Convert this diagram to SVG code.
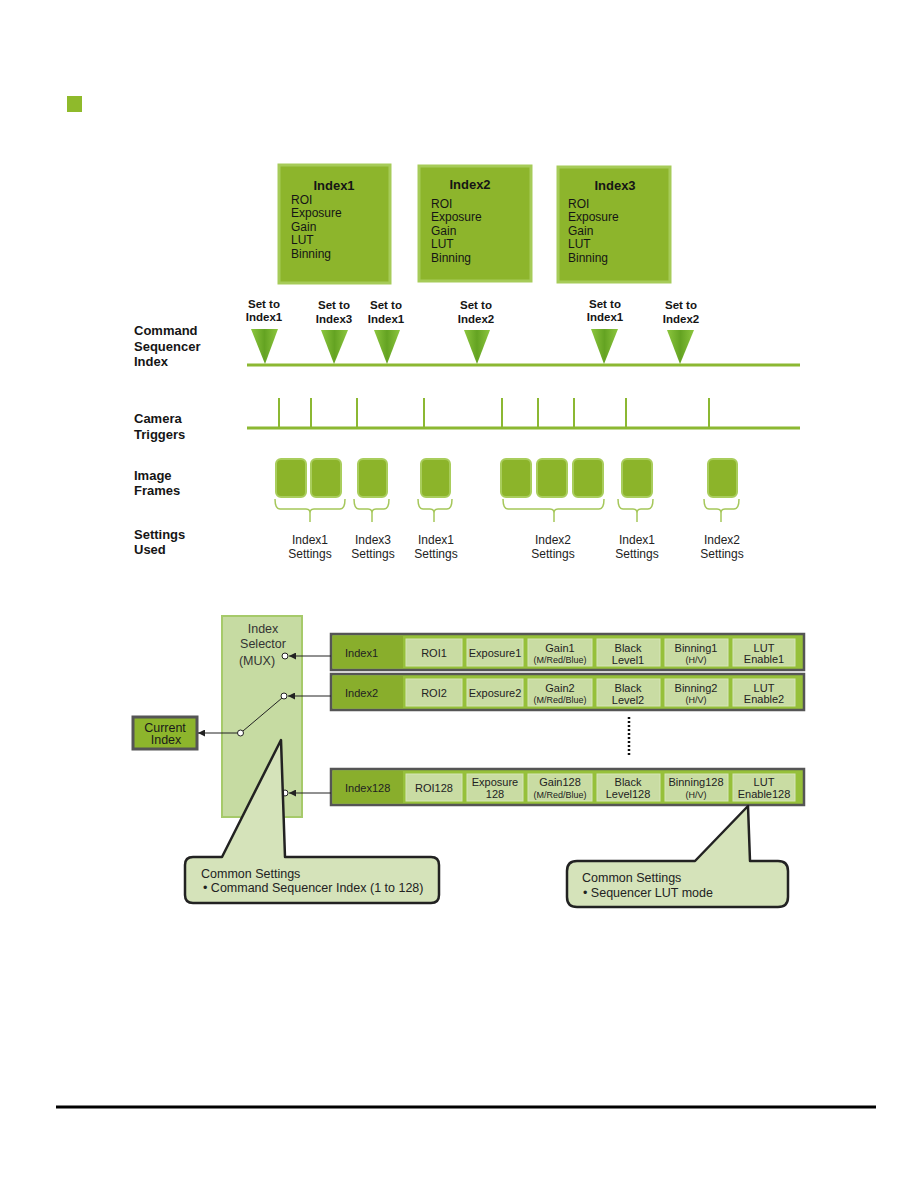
<svg xmlns="http://www.w3.org/2000/svg" width="918" height="1188" viewBox="0 0 918 1188">
<style>
text { font-family: "Liberation Sans", Arial, sans-serif; fill: #151515; }
.b13 { font-size: 13px; font-weight: bold; }
.b115 { font-size: 11.5px; font-weight: bold; text-anchor: middle; }
.r12 { font-size: 12px; }
.c12 { font-size: 12px; text-anchor: middle; fill: #222; }
.c11 { font-size: 11px; text-anchor: middle; fill: #222; }
.l11 { font-size: 11px; fill: #222; }
.s9 { font-size: 9px; text-anchor: middle; fill: #222; }
.mux { font-size: 12.5px; text-anchor: middle; fill: #333; }
.cl { font-size: 12.5px; fill: #222; }
.idx { fill: #8db52c; stroke: #a6cb58; stroke-width: 3; }
.tl { stroke: #8cb832; stroke-width: 3; fill: none; }
.tk { stroke: #8cb832; stroke-width: 2; }
.frm { fill: #8cb42a; stroke: #a9cd5c; stroke-width: 2; }
.brc { fill: none; stroke: #a5c75a; stroke-width: 1.5; }
.row { fill: #96c03a; stroke: #555; stroke-width: 2.5; }
.icell { fill: #89ae2c; }
.cell { fill: #c9dca3; stroke: #d6e6b8; stroke-width: 1; }
.conn { stroke: #222; stroke-width: 1; fill: none; }
.pin { fill: #fff; stroke: #222; stroke-width: 1; }
.call { fill: #d5e3ba; stroke: #222; stroke-width: 2.5; stroke-linejoin: round; }
</style>
<defs>
<linearGradient id="tri" x1="0" y1="0" x2="1" y2="0">
<stop offset="0" stop-color="#8cc63e"/>
<stop offset="0.5" stop-color="#64a322"/>
<stop offset="1" stop-color="#8cc63e"/>
</linearGradient>
<marker id="ah" viewBox="0 0 10 10" refX="10" refY="5" markerWidth="7" markerHeight="7" orient="auto">
<path d="M0,0 L10,5 L0,10 z" fill="#222"/>
</marker>
</defs>

<rect x="67" y="96" width="15" height="16" fill="#8fba2b"/>

<g id="index1-box">
<rect class="idx" x="279" y="165" width="111" height="118"/>
<text class="b13" x="334" y="189.5" text-anchor="middle">Index1</text>
<text class="r12" x="291" y="203.5">ROI</text>
<text class="r12" x="291" y="217">Exposure</text>
<text class="r12" x="291" y="230.5">Gain</text>
<text class="r12" x="291" y="244">LUT</text>
<text class="r12" x="291" y="257.5">Binning</text>
</g>
<g id="index2-box">
<rect class="idx" x="419" y="166" width="112" height="115"/>
<text class="b13" x="470" y="188.5" text-anchor="middle">Index2</text>
<text class="r12" x="431" y="207.5">ROI</text>
<text class="r12" x="431" y="221">Exposure</text>
<text class="r12" x="431" y="234.5">Gain</text>
<text class="r12" x="431" y="248">LUT</text>
<text class="r12" x="431" y="261.5">Binning</text>
</g>
<g id="index3-box">
<rect class="idx" x="558" y="167" width="112" height="115"/>
<text class="b13" x="615" y="189.5" text-anchor="middle">Index3</text>
<text class="r12" x="568" y="207.5">ROI</text>
<text class="r12" x="568" y="221">Exposure</text>
<text class="r12" x="568" y="234.5">Gain</text>
<text class="r12" x="568" y="248">LUT</text>
<text class="r12" x="568" y="261.5">Binning</text>
</g>

<g id="row-labels">
<text class="b13" x="134" y="334.5">Command</text>
<text class="b13" x="134" y="350.5">Sequencer</text>
<text class="b13" x="134" y="365.5">Index</text>
<text class="b13" x="134" y="422.5">Camera</text>
<text class="b13" x="134" y="438.5">Triggers</text>
<text class="b13" x="134" y="479.5">Image</text>
<text class="b13" x="134" y="494.5">Frames</text>
<text class="b13" x="134" y="538.5">Settings</text>
<text class="b13" x="134" y="553.5">Used</text>
</g>

<g id="sequencer-timeline">
<line class="tl" x1="247" y1="365" x2="800" y2="365"/>
<polygon points="251,329 278,329 265,364" fill="url(#tri)"/>
<polygon points="321,330 348,330 334,364" fill="url(#tri)"/>
<polygon points="374,330 400,330 387,364" fill="url(#tri)"/>
<polygon points="464,330 490,330 477,364" fill="url(#tri)"/>
<polygon points="591,329 618,329 604,364" fill="url(#tri)"/>
<polygon points="667,330 694,330 680,364" fill="url(#tri)"/>
<text class="b115" x="264" y="307.5">Set to</text>
<text class="b115" x="264" y="320.5">Index1</text>
<text class="b115" x="334" y="309">Set to</text>
<text class="b115" x="334" y="322.5">Index3</text>
<text class="b115" x="386" y="309">Set to</text>
<text class="b115" x="386" y="322.5">Index1</text>
<text class="b115" x="476" y="309">Set to</text>
<text class="b115" x="476" y="322.5">Index2</text>
<text class="b115" x="605" y="307.5">Set to</text>
<text class="b115" x="605" y="320.5">Index1</text>
<text class="b115" x="681" y="309">Set to</text>
<text class="b115" x="681" y="322.5">Index2</text>
</g>

<g id="trigger-timeline">
<line class="tl" x1="247" y1="428" x2="800" y2="428"/>
<line class="tk" x1="279" y1="398" x2="279" y2="428"/>
<line class="tk" x1="311" y1="398" x2="311" y2="428"/>
<line class="tk" x1="357" y1="398" x2="357" y2="428"/>
<line class="tk" x1="424" y1="398" x2="424" y2="428"/>
<line class="tk" x1="502" y1="398" x2="502" y2="428"/>
<line class="tk" x1="538" y1="398" x2="538" y2="428"/>
<line class="tk" x1="574" y1="398" x2="574" y2="428"/>
<line class="tk" x1="626" y1="398" x2="626" y2="428"/>
<line class="tk" x1="709" y1="398" x2="709" y2="428"/>
</g>

<g id="image-frames">
<rect class="frm" x="276" y="459" width="30" height="38" rx="5"/>
<rect class="frm" x="311" y="459" width="30" height="38" rx="5"/>
<rect class="frm" x="358" y="459" width="29" height="38" rx="5"/>
<rect class="frm" x="421" y="459" width="29" height="38" rx="5"/>
<rect class="frm" x="501" y="459" width="30" height="38" rx="5"/>
<rect class="frm" x="537" y="459" width="30" height="38" rx="5"/>
<rect class="frm" x="573" y="459" width="30" height="38" rx="5"/>
<rect class="frm" x="622" y="459" width="30" height="38" rx="5"/>
<rect class="frm" x="708" y="459" width="29" height="38" rx="5"/>
</g>

<g id="settings-braces">
<path class="brc" d="M275 499 Q275 509 280 509 L306 509 Q310 509 310 513 L310 522 M310 513 Q310 509 314 509 L340 509 Q345 509 345 499"/>
<path class="brc" d="M354 499 Q354 509 359 509 L368 509 Q372 509 372 513 L372 522 M372 513 Q372 509 376 509 L384 509 Q389 509 389 499"/>
<path class="brc" d="M418 499 Q418 509 423 509 L430 509 Q434 509 434 513 L434 522 M434 513 Q434 509 438 509 L447 509 Q452 509 452 499"/>
<path class="brc" d="M503 499 Q503 509 508 509 L550 509 Q554 509 554 513 L554 522 M554 513 Q554 509 558 509 L599 509 Q604 509 604 499"/>
<path class="brc" d="M618 499 Q618 509 623 509 L633 509 Q637 509 637 513 L637 522 M637 513 Q637 509 641 509 L648 509 Q653 509 653 499"/>
<path class="brc" d="M704 499 Q704 509 709 509 L717 509 Q721 509 721 513 L721 522 M721 513 Q721 509 725 509 L734 509 Q739 509 739 499"/>
<text class="c12" x="310" y="544.3">Index1</text>
<text class="c12" x="310" y="558.3">Settings</text>
<text class="c12" x="373" y="544.3">Index3</text>
<text class="c12" x="373" y="558.3">Settings</text>
<text class="c12" x="436" y="544.3">Index1</text>
<text class="c12" x="436" y="558.3">Settings</text>
<text class="c12" x="553" y="544.3">Index2</text>
<text class="c12" x="553" y="558.3">Settings</text>
<text class="c12" x="637" y="544.3">Index1</text>
<text class="c12" x="637" y="558.3">Settings</text>
<text class="c12" x="722" y="544.3">Index2</text>
<text class="c12" x="722" y="558.3">Settings</text>
</g>

<g id="index-selector-mux">
<rect x="222" y="616" width="80" height="201" fill="#c6dba2" stroke="#a6ca6a" stroke-width="2"/>
<text class="mux" x="263" y="632.5">Index</text>
<text class="mux" x="263" y="647.5">Selector</text>
<text class="mux" x="257" y="664.5">(MUX)</text>
</g>

<g id="current-index">
<rect x="133" y="717" width="64" height="32" fill="#8db52c" stroke="#555" stroke-width="3"/>
<text class="mux" x="165" y="731.5" fill="#1a1a1a" style="fill:#1a1a1a">Current</text>
<text class="mux" x="166" y="743.5" style="fill:#1a1a1a">Index</text>
</g>

<g id="row-index1" transform="translate(0,634)">
<rect class="row" x="331" y="0" width="473" height="36"/>
<rect class="icell" x="333" y="2" width="70" height="32"/>
<rect class="cell" x="406" y="5" width="56" height="27"/>
<rect class="cell" x="467" y="5" width="56" height="27"/>
<rect class="cell" x="528" y="5" width="64" height="27"/>
<rect class="cell" x="597" y="5" width="63" height="27"/>
<rect class="cell" x="665" y="5" width="63" height="27"/>
<rect class="cell" x="733" y="5" width="62" height="27"/>
<text class="l11" x="345" y="23">Index1</text>
<text class="c11" x="434" y="23">ROI1</text>
<text class="c11" x="495" y="23">Exposure1</text>
<text class="c11" x="560" y="18">Gain1</text>
<text class="s9" x="560" y="29">(M/Red/Blue)</text>
<text class="c11" x="628" y="18">Black</text>
<text class="c11" x="628" y="30">Level1</text>
<text class="c11" x="696" y="18">Binning1</text>
<text class="s9" x="696" y="29">(H/V)</text>
<text class="c11" x="764" y="18">LUT</text>
<text class="c11" x="764" y="29">Enable1</text>
</g>

<g id="row-index2" transform="translate(0,674)">
<rect class="row" x="331" y="0" width="473" height="36"/>
<rect class="icell" x="333" y="2" width="70" height="32"/>
<rect class="cell" x="406" y="5" width="56" height="27"/>
<rect class="cell" x="467" y="5" width="56" height="27"/>
<rect class="cell" x="528" y="5" width="64" height="27"/>
<rect class="cell" x="597" y="5" width="63" height="27"/>
<rect class="cell" x="665" y="5" width="63" height="27"/>
<rect class="cell" x="733" y="5" width="62" height="27"/>
<text class="l11" x="345" y="23">Index2</text>
<text class="c11" x="434" y="23">ROI2</text>
<text class="c11" x="495" y="23">Exposure2</text>
<text class="c11" x="560" y="18">Gain2</text>
<text class="s9" x="560" y="29">(M/Red/Blue)</text>
<text class="c11" x="628" y="18">Black</text>
<text class="c11" x="628" y="30">Level2</text>
<text class="c11" x="696" y="18">Binning2</text>
<text class="s9" x="696" y="29">(H/V)</text>
<text class="c11" x="764" y="18">LUT</text>
<text class="c11" x="764" y="29">Enable2</text>
</g>

<g id="row-index128" transform="translate(0,769)">
<rect class="row" x="331" y="0" width="473" height="36"/>
<rect class="icell" x="333" y="2" width="70" height="32"/>
<rect class="cell" x="406" y="5" width="56" height="27"/>
<rect class="cell" x="467" y="5" width="56" height="27"/>
<rect class="cell" x="528" y="5" width="64" height="27"/>
<rect class="cell" x="597" y="5" width="63" height="27"/>
<rect class="cell" x="665" y="5" width="63" height="27"/>
<rect class="cell" x="733" y="5" width="62" height="27"/>
<text class="l11" x="345" y="23">Index128</text>
<text class="c11" x="434" y="23">ROI128</text>
<text class="c11" x="495" y="17">Exposure</text>
<text class="c11" x="495" y="29">128</text>
<text class="c11" x="560" y="17">Gain128</text>
<text class="s9" x="560" y="29">(M/Red/Blue)</text>
<text class="c11" x="628" y="17">Black</text>
<text class="c11" x="628" y="29">Level128</text>
<text class="c11" x="696" y="17">Binning128</text>
<text class="s9" x="696" y="29">(H/V)</text>
<text class="c11" x="764" y="17">LUT</text>
<text class="c11" x="764" y="29">Enable128</text>
</g>

<g id="connectors">
<line class="conn" x1="331" y1="656" x2="289" y2="656" marker-end="url(#ah)"/>
<line class="conn" x1="331" y1="696" x2="288" y2="696" marker-end="url(#ah)"/>
<line class="conn" x1="331" y1="793" x2="289" y2="793" marker-end="url(#ah)"/>
<line class="conn" x1="243" y1="731" x2="282" y2="698"/>
<line class="conn" x1="237.5" y1="733" x2="198" y2="733" marker-end="url(#ah)"/>
<line x1="629" y1="717" x2="629" y2="757" stroke="#111" stroke-width="2.5" stroke-dasharray="2 2"/>
<circle class="pin" cx="285" cy="656" r="3"/>
<circle class="pin" cx="284" cy="696" r="3"/>
<circle class="pin" cx="240.5" cy="733" r="3"/>
<circle class="pin" cx="285" cy="793" r="3"/>
</g>

<g id="callout-common-index">
<path class="call" d="M193 857 L222 857 L281 740 L285 857 L431 857 Q439 857 439 865 L439 895 Q439 903 431 903 L193 903 Q185 903 185 895 L185 865 Q185 857 193 857 Z"/>
<text class="cl" x="201" y="878">Common Settings</text>
<text class="cl" x="203" y="892">• Command Sequencer Index (1 to 128)</text>
</g>

<g id="callout-common-lut">
<path class="call" d="M577 861 L695 861 L748 806 L750 861 L778 861 Q788 861 788 871 L788 897 Q788 907 778 907 L577 907 Q567 907 567 897 L567 871 Q567 861 577 861 Z"/>
<text class="cl" x="582" y="881.5">Common Settings</text>
<text class="cl" x="583" y="896.5">• Sequencer LUT mode</text>
</g>

<line x1="56" y1="1107" x2="876" y2="1107" stroke="#000" stroke-width="3"/>
</svg>
